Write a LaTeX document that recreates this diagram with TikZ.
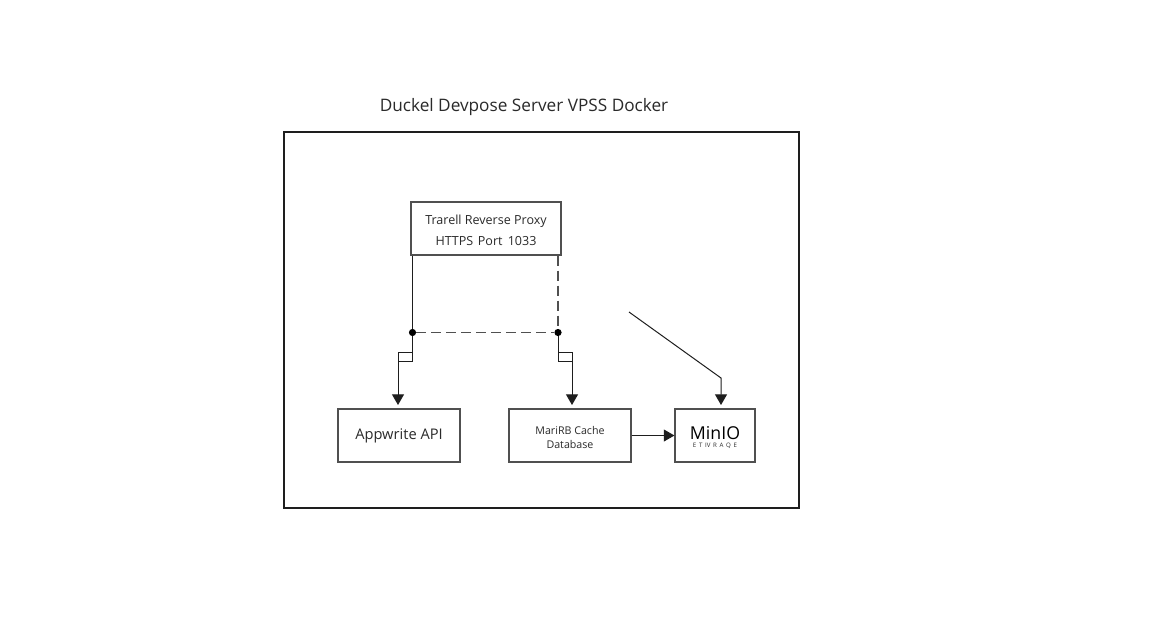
\documentclass[tikz,border=0pt]{standalone}
\usepackage{fontspec}
\setmainfont{Open Sans}
\usetikzlibrary{arrows.meta,calc}
\definecolor{ink}{HTML}{1E1E1E}
\definecolor{boxline}{HTML}{505050}
\definecolor{txt}{HTML}{2A2A2A}
\tikzset{
  x=0.75pt,y=-0.75pt,
  outerbox/.style={draw=ink,line width=1.4pt,inner sep=0pt,minimum width=386pt,minimum height=282pt},
  block/.style={draw=boxline,line width=0.85pt,inner sep=0pt,align=center,text=txt},
  blocktext/.style={inner sep=0pt,align=center,text=txt},
  wire/.style={draw=ink,line width=0.75pt},
  dashwire/.style={draw=boxline,line width=0.85pt,dash pattern=on 7.5pt off 3.75pt},
  arrowwire/.style={wire,-{Triangle[length=8pt,width=9pt]}},
  junction/.style={circle,fill=black,inner sep=0pt,minimum size=5.4pt},
  titletext/.style={text=txt,font=\fontsize{12.9}{15}\selectfont},
}
\begin{document}
\begin{tikzpicture}
\useasboundingbox (0,0) rectangle (1152,640);
\fill[white] (0,0) rectangle (1152,640);
\node[titletext] (title) at (524,107) {Duckel Devpose Server VPSS Docker};
\node[outerbox] (server) at (541.5,320) {};
\node[block,minimum width=112.5pt,minimum height=39.75pt] (proxy) at (486,228.5) {};
\node[blocktext,font=\fontsize{9.4}{15.6}\selectfont] (proxylabel) at (486,230.5) {Trarell Reverse Proxy\\HTTPS\hspace{1pt} Port\hspace{1.5pt} 1033};
\node[block,minimum width=91.5pt,minimum height=39.75pt,font=\fontsize{11}{13}\selectfont] (api) at (399,435.5) {Appwrite API};
\node[block,minimum width=91.5pt,minimum height=39.75pt] (maria) at (570,435.5) {};
\node[blocktext,font=\fontsize{8}{10.5}\selectfont] (marialabel) at (570,437) {MariRB Cache\\Database};
\node[block,minimum width=60pt,minimum height=39.75pt] (minio) at (715,435.5) {};
\node[text=black,font=\fontsize{13.3}{16}\selectfont,inner sep=0pt] (miniolabel) at (715,433) {MinIO};
\node[text=txt,font=\fontsize{4.6}{6}\selectfont,inner sep=0pt] (miniosub) at (715,446) {E\hspace{2pt}T\hspace{2pt}IV\hspace{2pt}R\hspace{2pt}A\hspace{2pt}Q\hspace{2pt}E};
\node[junction] (dotL) at (412.5,332.5) {};
\node[junction] (dotR) at (558,332.5) {};
\coordinate (notchL) at (398,352);
\coordinate (notchLb) at (398,361);
\coordinate (notchR) at (572,352);
\coordinate (notchRb) at (558,361);
\coordinate (tipL) at (398,405);
\coordinate (tipR) at (572,405);
\coordinate (diagStart) at (629,312);
\coordinate (diagBend) at (721,378);
\coordinate (tipM) at (721,405);
\draw[wire] (proxy.south west -| dotL) -- (dotL);
\draw[dashwire] (proxy.south -| dotR) -- (dotR);
\draw[dashwire] (dotL) -- (dotR);
\draw[wire] (dotL) -- (412.5,361) -- (notchLb) -- (notchL) -- (412.5,352);
\draw[arrowwire] (notchLb) -- (tipL);
\draw[wire] (dotR) -- (notchRb) -- (572,361) -- (notchR) -- (558,352);
\draw[arrowwire] (572,361) -- (tipR);
\draw[arrowwire] (diagStart) -- (diagBend) -- (tipM);
\draw[arrowwire] (maria.east) -- (minio.west);
\end{tikzpicture}
\end{document}
